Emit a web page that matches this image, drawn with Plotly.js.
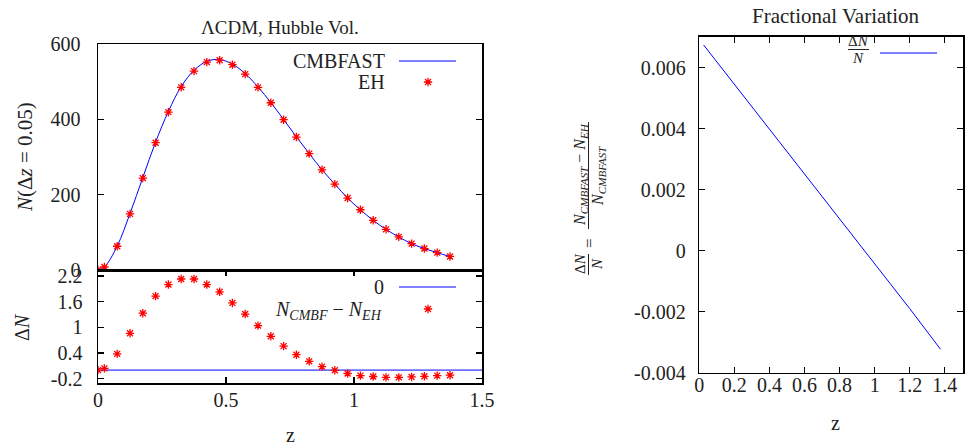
<!DOCTYPE html>
<html>
<head>
<meta charset="utf-8">
<script src="https://cdn.plot.ly/plotly-3.0.1.min.js"></script>
<style>html,body{margin:0;padding:0;background:#fff;}#chart{width:968px;height:446px;}</style>
</head>
<body>
<div id="chart"></div>
<script>
// ---------- data ----------
const zEH = [0, 0.025, 0.075, 0.125, 0.175, 0.225, 0.275, 0.325, 0.375, 0.425, 0.475, 0.525, 0.575, 0.625, 0.675, 0.725, 0.775, 0.825, 0.875, 0.925, 0.975, 1.025, 1.075, 1.125, 1.175, 1.225, 1.275, 1.325, 1.375];
const nEH = [0, 8, 63, 149, 244, 338, 419, 485, 528, 552, 557, 545, 520, 485, 444, 399, 353, 309, 266, 228, 191, 160, 132, 108, 88, 70, 57, 46, 36];
const nCMBFAST = [0, 8.04, 63.4, 149.9, 245.3, 339.7, 421, 487.1, 530.1, 554, 558.8, 546.6, 521.3, 486, 444.8, 399.6, 353.4, 309.2, 266.1, 228, 190.9, 159.9, 131.8, 107.8, 87.8, 69.8, 56.9, 45.9, 35.9];
const deltaN = [0.0, 0.04, 0.38, 0.86, 1.33, 1.73, 2.0, 2.13, 2.13, 2.0, 1.83, 1.57, 1.31, 1.04, 0.79, 0.56, 0.36, 0.205, 0.08, -0.005, -0.08, -0.13, -0.15, -0.17, -0.17, -0.16, -0.145, -0.13, -0.12];
const zZero = [0, 1.5];
const zeroLine = [0, 0];
const zFrac = [0.025, 0.2, 0.4, 0.6, 0.8, 1.0, 1.2, 1.375];
const fracVar = [0.00675, 0.00546, 0.00398, 0.00252, 0.00105, -0.00043, -0.00190, -0.00323];

const topYTicks = [0, 200, 400, 600];
const botYTicks = [-0.2, 0.4, 1, 1.6, 2.2];
const botYTickText = ['-0.2', '0.4', '1', '1.6', '2.2'];
const leftXTicks = [0, 0.5, 1, 1.5];
const rightXTicks = [0, 0.2, 0.4, 0.6, 0.8, 1, 1.2, 1.4];
const rightYTicks = [-0.004, -0.002, 0, 0.002, 0.004, 0.006];
const rightYTickText = ['-0.004', '-0.002', '0', '0.002', '0.004', '0.006'];

// ---------- layout helpers ----------
const W = 968, H = 446;
const px = x => x / W;
const py = y => (H - y) / H;
const FONT = 'Liberation Serif';
const TXT = '#222';
const BLUE = '#0000ff';
const RED = '#ff0000';

const mk = {symbol: 'asterisk-open', size: 7, color: RED, line: {color: RED, width: 1.3}};

const traces = [
  {x: zEH, y: nCMBFAST, xaxis: 'x', yaxis: 'y', mode: 'lines', line: {color: BLUE, width: 1, shape: 'spline'}, name: 'CMBFAST', showlegend: false},
  {x: zEH, y: nEH, xaxis: 'x', yaxis: 'y', mode: 'markers', marker: mk, name: '', legend: 'legend', showlegend: true},
  {x: zZero, y: zeroLine, xaxis: 'x2', yaxis: 'y2', mode: 'lines', line: {color: BLUE, width: 1}, name: '0', showlegend: false},
  {x: zEH, y: deltaN, xaxis: 'x2', yaxis: 'y2', mode: 'markers', marker: mk, name: '', legend: 'legend2', showlegend: true},
  {x: zFrac, y: fracVar, xaxis: 'x3', yaxis: 'y3', mode: 'lines', line: {color: BLUE, width: 1}, name: 'ΔN/N', showlegend: false}
];

const axBase = {
  showline: true, linecolor: '#000', linewidth: 1.5, mirror: 'ticks',
  ticks: 'inside', ticklen: 6, tickwidth: 1.2, tickcolor: '#000',
  showgrid: false, zeroline: false,
  tickfont: {family: FONT, size: 20, color: TXT}
};

const leftDom = [px(98), px(482)];
const topDom = [py(270), py(44)];
const botDom = [py(383.3), py(270)];
const rightXDom = [px(699.2), px(963.3)];
const rightYDom = [py(372.7), py(36.7)];

const legBase = {bgcolor: 'rgba(0,0,0,0)', borderwidth: 0, font: {family: FONT, size: 10, color: TXT}, xanchor: 'left', yanchor: 'middle', itemwidth: 30};

const f = s => ({family: FONT, size: s, color: TXT});
const ann = (text, x, y, opts) => Object.assign({text: text, x: px(x), y: py(y), xref: 'paper', yref: 'paper', showarrow: false, xanchor: 'center', yanchor: 'middle', font: f(20)}, opts || {});

const annotations = [
  ann('ΛCDM, Hubble Vol.', 280, 28, {font: f(19)}),
  ann('Fractional Variation', 835, 16, {font: f(21)}),
  ann('z', 290, 435),
  ann('z', 835, 423),
  ann('<i>N</i>(Δ<i>z</i> = 0.05)', 25, 157, {textangle: -90, font: f(21)}),
  ann('Δ<i>N</i>', 22, 327, {textangle: -90}),
  ann('CMBFAST', 387, 61, {xanchor: 'right'}),
  ann('EH', 387, 82, {xanchor: 'right'}),
  ann('0', 386, 287, {xanchor: 'right'}),
  ann('<i>N</i><sub><i>CMBF</i></sub> − <i>N</i><sub><i>EH</i></sub>', 384, 310, {xanchor: 'right'}),
  ann('Δ<i>N</i>', 858, 41, {font: f(15)}),
  ann('<i>N</i>', 858, 58, {font: f(15)}),
  ann('Δ<i>N</i>', 580, 264, {textangle: -90, font: f(15)}),
  ann('<i>N</i>', 597, 264, {textangle: -90, font: f(15)}),
  ann('=', 589, 243, {textangle: -90, font: f(17)}),
  ann('<i>N</i><sub><i>CMBFAST</i></sub> − <i>N</i><sub><i>EH</i></sub>', 580, 175, {textangle: -90, font: f(16)}),
  ann('<i>N</i><sub><i>CMBFAST</i></sub>', 598, 176, {textangle: -90, font: f(16)})
];

const lineShape = (x0, y0, x1, y1, color, w) => ({type: 'line', xref: 'paper', yref: 'paper', x0: px(x0), y0: py(y0), x1: px(x1), y1: py(y1), line: {color: color, width: w}});

const shapes = [
  lineShape(399, 61, 456, 61, BLUE, 1),
  lineShape(399, 287, 456, 287, BLUE, 1),
  lineShape(880, 53, 937, 53, BLUE, 1),
  lineShape(848, 49.5, 869, 49.5, TXT, 1),
  lineShape(588.5, 254, 588.5, 275, TXT, 1),
  lineShape(588.5, 122, 588.5, 229, TXT, 1)
];

const layout = {
  width: W, height: H,
  margin: {l: 0, r: 0, t: 0, b: 0},
  paper_bgcolor: '#fff', plot_bgcolor: 'rgba(0,0,0,0)',
  font: {family: FONT, color: TXT},
  xaxis: Object.assign({}, axBase, {domain: leftDom, anchor: 'y', range: [0, 1.5], tickvals: leftXTicks, showticklabels: false, ticks: '', mirror: true}),
  yaxis: Object.assign({}, axBase, {domain: topDom, anchor: 'x', range: [0, 600], tickvals: topYTicks, ticklabelstandoff: 12}),
  xaxis2: Object.assign({}, axBase, {domain: leftDom, anchor: 'y2', range: [0, 1.5], tickvals: leftXTicks, ticklabelstandoff: -2}),
  yaxis2: Object.assign({}, axBase, {domain: botDom, anchor: 'x2', range: [-0.309, 2.34], tickvals: botYTicks, ticktext: botYTickText, ticklabelstandoff: 10}),
  xaxis3: Object.assign({}, axBase, {domain: rightXDom, anchor: 'y3', range: [0, 1.505], tickvals: rightXTicks, ticklabelstandoff: -6}),
  yaxis3: Object.assign({}, axBase, {domain: rightYDom, anchor: 'x3', range: [-0.004, 0.00702], tickvals: rightYTicks, ticktext: rightYTickText, ticklabelstandoff: 8}),
  legend: Object.assign({}, legBase, {x: px(408), y: py(82)}),
  legend2: Object.assign({}, legBase, {x: px(408), y: py(309)}),
  annotations: annotations,
  shapes: shapes
};

Plotly.newPlot('chart', traces, layout, {displayModeBar: false, staticPlot: true});
</script>
</body>
</html>
